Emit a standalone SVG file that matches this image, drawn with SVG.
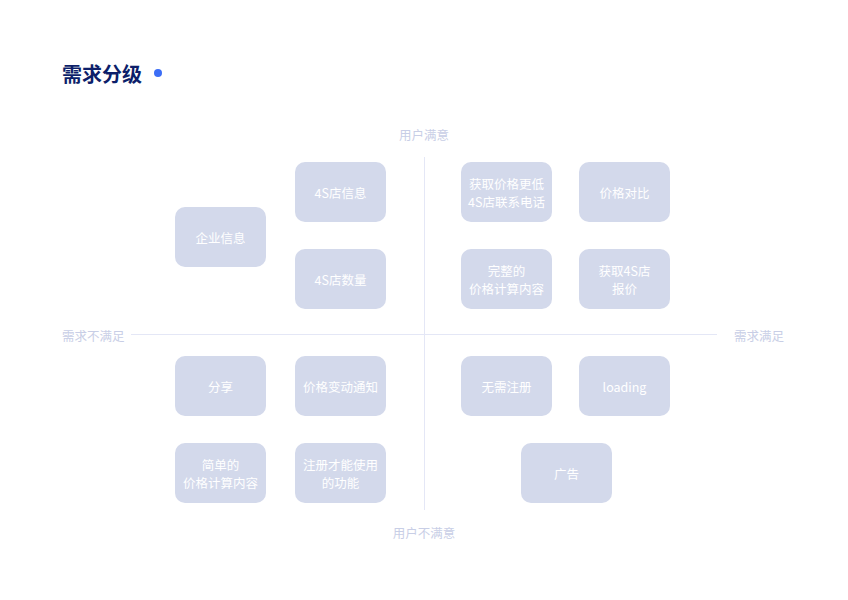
<svg xmlns="http://www.w3.org/2000/svg" width="848" height="600" viewBox="0 0 848 600">
<style>
.box{fill:#d3d9eb}
.t{font-family:"Noto Sans CJK SC","Noto Sans",sans-serif;font-size:12.5px;fill:#ffffff;text-anchor:middle;dominant-baseline:central}
.ax{font-family:"Noto Sans CJK SC","Noto Sans",sans-serif;font-size:12.5px;fill:#c8cee6;dominant-baseline:central}
.line{stroke:#e4e7f6;stroke-width:1;fill:none}
</style>
<rect width="848" height="600" fill="#ffffff"/>
<g id="title">
<text x="62" y="73" font-family="'Noto Sans CJK SC',sans-serif" font-size="20" font-weight="bold" fill="#0d1f6a" dominant-baseline="central">需求分级</text>
<circle cx="158" cy="73" r="4" fill="#3c6ef6"/>
</g>
<g id="connectors">
<line class="line" x1="424.5" y1="157" x2="424.5" y2="510"/>
<line class="line" x1="131" y1="334.5" x2="717" y2="334.5"/>
</g>
<g id="axis-labels">
<text class="ax" x="424" y="134" text-anchor="middle">用户满意</text>
<text class="ax" x="424" y="532" text-anchor="middle">用户不满意</text>
<text class="ax" x="62" y="335">需求不满足</text>
<text class="ax" x="734" y="335">需求满足</text>
</g>
<g id="n1"><rect class="box" x="175" y="207" width="91" height="60" rx="10"/><text class="t" x="220.5" y="237">企业信息</text></g>
<g id="n2"><rect class="box" x="295" y="162" width="91" height="60" rx="10"/><text class="t" x="340.5" y="192">4S店信息</text></g>
<g id="n3"><rect class="box" x="295" y="249" width="91" height="60" rx="10"/><text class="t" x="340.5" y="279">4S店数量</text></g>
<g id="n4"><rect class="box" x="461" y="162" width="91" height="60" rx="10"/><text class="t" x="506.5" y="183.5">获取价格更低</text><text class="t" x="506.5" y="201.5">4S店联系电话</text></g>
<g id="n5"><rect class="box" x="579" y="162" width="91" height="60" rx="10"/><text class="t" x="624.5" y="192">价格对比</text></g>
<g id="n6"><rect class="box" x="461" y="249" width="91" height="60" rx="10"/><text class="t" x="506.5" y="270.5">完整的</text><text class="t" x="506.5" y="288.5">价格计算内容</text></g>
<g id="n7"><rect class="box" x="579" y="249" width="91" height="60" rx="10"/><text class="t" x="624.5" y="270.5">获取4S店</text><text class="t" x="624.5" y="288.5">报价</text></g>
<g id="n8"><rect class="box" x="175" y="356" width="91" height="60" rx="10"/><text class="t" x="220.5" y="386">分享</text></g>
<g id="n9"><rect class="box" x="295" y="356" width="91" height="60" rx="10"/><text class="t" x="340.5" y="386">价格变动通知</text></g>
<g id="n10"><rect class="box" x="175" y="443" width="91" height="60" rx="10"/><text class="t" x="220.5" y="464.5">简单的</text><text class="t" x="220.5" y="482.5">价格计算内容</text></g>
<g id="n11"><rect class="box" x="295" y="443" width="91" height="60" rx="10"/><text class="t" x="340.5" y="464.5">注册才能使用</text><text class="t" x="340.5" y="482.5">的功能</text></g>
<g id="n12"><rect class="box" x="461" y="356" width="91" height="60" rx="10"/><text class="t" x="506.5" y="386">无需注册</text></g>
<g id="n13"><rect class="box" x="579" y="356" width="91" height="60" rx="10"/><text class="t" x="624.5" y="386">loading</text></g>
<g id="n14"><rect class="box" x="521" y="443" width="91" height="60" rx="10"/><text class="t" x="566.5" y="473">广告</text></g>
</svg>
